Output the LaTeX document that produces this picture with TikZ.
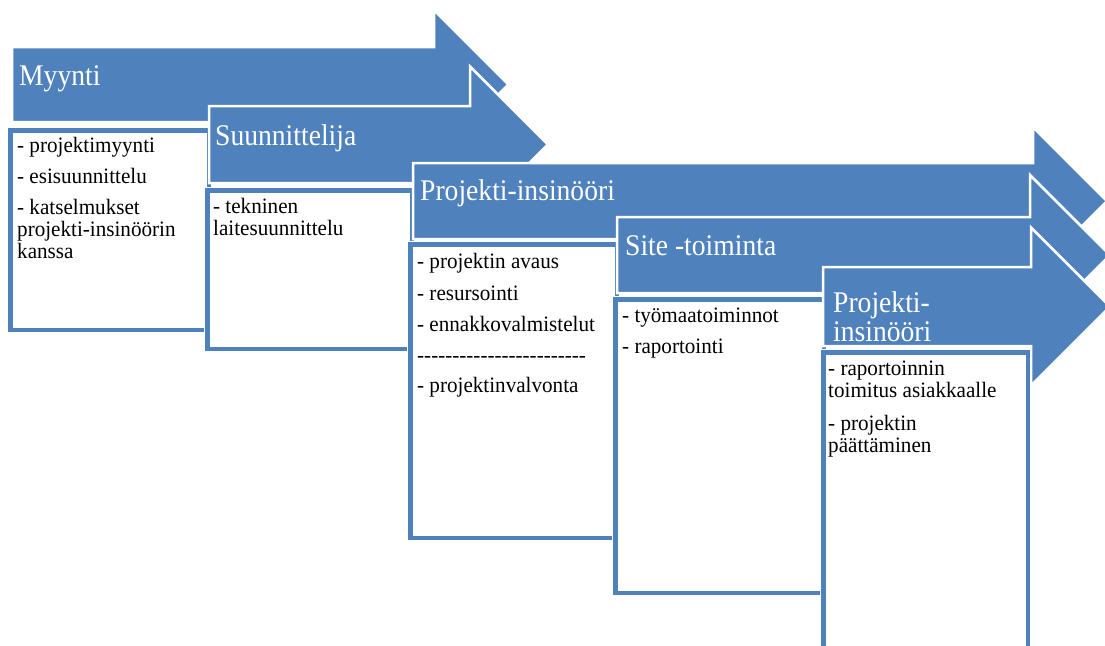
\documentclass[tikz,border=0pt]{standalone}
\usepackage{fontspec}
\setmainfont{Liberation Serif}[FakeStretch=0.92,Ligatures=TeXOff]
\newfontfamily\bodyfont{Liberation Serif}[FakeStretch=0.96,Ligatures=TeXOff]
\definecolor{pblue}{HTML}{4F81BD}
\tikzset{
  arrowshape/.style={fill=pblue, draw=white, line width=2.5pt, line join=miter},
  boxshape/.style={fill=white, draw=white, line width=1.2pt, double=pblue, double distance=4.5pt},
  headtxt/.style={anchor=base west, inner sep=0pt, text=white, font=\fontsize{30}{29}\selectfont},
  bodytxt/.style={anchor=base west, inner sep=0pt, text=black, font=\bodyfont\fontsize{22}{22}\selectfont},
}
% #1 x0, #2 x1 (head base), #3 yc, #4 body half height, #5 head half height
\newcommand\procarrow[5]{%
  \path[arrowshape] (#1,#3-#4) -- (#2,#3-#4) -- (#2,#3-#5) -- (#2+#5,#3)
    -- (#2,#3+#5) -- (#2,#3+#4) -- (#1,#3+#4) -- cycle;}
% outer edge of blue border: x0,y0,x1,y1
\newcommand\procbox[4]{%
  \path[boxshape] (#1+2.25,#2+2.25) rectangle (#3-2.25,#4-2.25);}
\begin{document}
\begin{tikzpicture}[x=1pt,y=-1pt]
\useasboundingbox (0,0) rectangle (1105,645);
\clip (0,0) rectangle (1105,645);
\fill[white] (0,0) rectangle (1105,645);

% Stage 1
\procarrow{12}{434}{84.5}{37.5}{74.5}
\node[headtxt] (h1) at (19,85) {Myynti};
\procbox{8}{128}{211}{332}
\node[bodytxt] (b1a) at (17,152) {- projektimyynti};
\node[bodytxt] (b1b) at (17,183) {- esisuunnittelu};
\node[bodytxt] (b1c) at (17,214) {- katselmukset};
\node[bodytxt] (b1d) at (17,236) {projekti-insinöörin};
\node[bodytxt] (b1e) at (17,258) {kanssa};

% Stage 2
\procarrow{209}{470}{144.5}{38.5}{78}
\node[headtxt] (h2) at (215,145) {Suunnittelija};
\procbox{205}{188}{414}{351}
\node[bodytxt] (b2a) at (213,213) {- tekninen};
\node[bodytxt] (b2b) at (213,235) {laitesuunnittelu};

% Stage 3
\procarrow{413}{1033}{201}{38}{74}
\node[headtxt] (h3) at (420,200) {Projekti-insinööri};
\procbox{408}{242}{619}{540}
\node[bodytxt] (b3a) at (417,268) {- projektin avaus};
\node[bodytxt] (b3b) at (417,300) {- resursointi};
\node[bodytxt] (b3c) at (417,331) {- ennakkovalmistelut};
\node[bodytxt] (b3d) at (417,362) {------------------------};
\node[bodytxt] (b3e) at (417,392) {- projektinvalvonta};

% Stage 4
\procarrow{617}{1030}{255}{38}{80}
\node[headtxt] (h4) at (625,255) {Site -toiminta};
\procbox{613}{297}{826}{595}
\node[bodytxt] (b4a) at (622,322) {- työmaatoiminnot};
\node[bodytxt] (b4b) at (622,353) {- raportointi};

% Stage 5
\procarrow{823}{1031}{306.5}{39.5}{79}
\node[headtxt] (h5a) at (833,312) {Projekti-};
\node[headtxt] (h5b) at (833,341) {insinööri};
\procbox{821}{350}{1030}{665}
\node[bodytxt] (b5a) at (828,375) {- raportoinnin};
\node[bodytxt] (b5b) at (828,397) {toimitus asiakkaalle};
\node[bodytxt] (b5c) at (828,430) {- projektin};
\node[bodytxt] (b5d) at (828,452) {päättäminen};
\end{tikzpicture}
\end{document}
